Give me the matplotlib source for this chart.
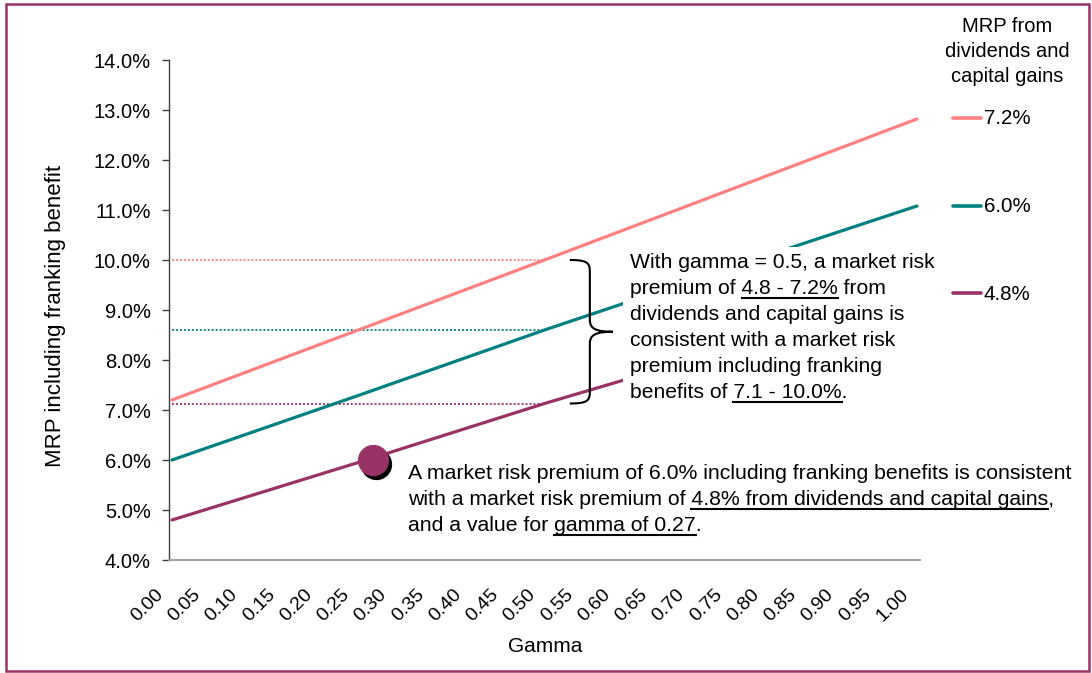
import matplotlib
matplotlib.use("Agg")
import matplotlib.pyplot as plt
import matplotlib.transforms as mtransforms
from matplotlib.lines import Line2D
from matplotlib.patches import Rectangle, PathPatch
from matplotlib.path import Path
from matplotlib.font_manager import FontProperties

FONT = ["Liberation Sans", "DejaVu Sans"]
plt.rcParams["font.family"] = FONT

W, H, DPI = 1092, 673, 100

# ---- data -------------------------------------------------------------
gamma = [0.0, 0.25, 0.5, 0.75, 1.0]
mrp_72 = [7.20, 8.60, 10.00, 11.41, 12.82]
mrp_60 = [6.00, 7.29, 8.60, 9.85, 11.08]
mrp_48 = [4.80, 5.95, 7.13, 8.23, 9.34]
series = [mrp_72, mrp_60, mrp_48]
series_labels = ["7.2%", "6.0%", "4.8%"]
series_colors = ["#FF8080", "#008080", "#993366"]

x_tick_labels = ["0.00", "0.05", "0.10", "0.15", "0.20", "0.25", "0.30",
                 "0.35", "0.40", "0.45", "0.50", "0.55", "0.60", "0.65",
                 "0.70", "0.75", "0.80", "0.85", "0.90", "0.95", "1.00"]
y_tick_values = [4, 5, 6, 7, 8, 9, 10, 11, 12, 13, 14]
y_tick_labels = ["4.0%", "5.0%", "6.0%", "7.0%", "8.0%", "9.0%", "10.0%",
                 "11.0%", "12.0%", "13.0%", "14.0%"]

ref_index = 2            # gamma = 0.5 reference column
point_gamma = 0.27       # highlighted point on the 4.8% line
point_mrp = 6.0

# ---- figure -----------------------------------------------------------
fig = plt.figure(figsize=(W / DPI, H / DPI), dpi=DPI)
pix = mtransforms.Affine2D().scale(1, -1).translate(0, H)   # y-down pixel coords

ax = fig.add_axes([169 / W, 1 - 560 / H, 751 / W, 500 / H])
ax.set_xlim(-3 / 745, 748 / 745)
ax.set_ylim(4, 14)

for s in ("top", "right"):
    ax.spines[s].set_visible(False)
ax.spines["left"].set_color("#404040")
ax.spines["left"].set_linewidth(1.0)
ax.spines["bottom"].set_color("#A0A0A0")
ax.spines["bottom"].set_linewidth(1.4)

ax.set_yticks(y_tick_values)
ax.set_yticklabels(y_tick_labels)
ax.tick_params(axis="y", direction="out", length=5, width=1, color="#404040",
               pad=8, labelsize=14.5)
ax.set_xticks([float(t) for t in x_tick_labels])
ax.set_xticklabels(x_tick_labels, rotation=45, ha="right", va="baseline",
                   rotation_mode="anchor")
ax.tick_params(axis="x", length=0, pad=25, labelsize=14)
# nudge the slanted labels so their ends sit just left of each category
label_shift = mtransforms.ScaledTranslation(-8 / DPI, 0, fig.dpi_scale_trans)
for lab in ax.xaxis.get_majorticklabels():
    lab.set_transform(lab.get_transform() + label_shift)

# dotted guides at gamma = 0.5
for vals, col in zip(series, series_colors):
    ax.plot([gamma[0], gamma[ref_index]], [vals[ref_index]] * 2, color=col,
            lw=1.3, ls=(0, (1.1, 1.1)), zorder=2)

# series lines
for vals, col in zip(series, series_colors):
    ax.plot(gamma, vals, color=col, lw=2.3, solid_capstyle="round", zorder=3)

# highlighted point with drop shadow
shadow = ax.transData + mtransforms.ScaledTranslation(3 / DPI, -4 / DPI,
                                                      fig.dpi_scale_trans)
ax.plot([point_gamma], [point_mrp], "o", ms=21.5, color="black",
        transform=shadow, zorder=4, clip_on=False)
ax.plot([point_gamma], [point_mrp], "o", ms=21.5, color="#993366",
        mec="#993366", zorder=5, clip_on=False)

# curly brace spanning the gamma = 0.5 range
top = mrp_72[ref_index]
bot = mrp_48[ref_index]
mid = (top + bot) / 2
px_x = 1 / 745
px_y = 0.02
xe = 0.534
xs = xe + 20 * px_x
xt = xe + 43 * px_x
r = 12 * px_y
verts = [
    (xe, top),
    (xs - 2 * px_x, top), (xs, top - 3 * px_y), (xs, top - r),
    (xs, mid + r),
    (xs, mid + 3 * px_y), (xs + 6 * px_x, mid), (xt, mid),
    (xs + 6 * px_x, mid), (xs, mid - 3 * px_y), (xs, mid - r),
    (xs, bot + r),
    (xs, bot + 3 * px_y), (xs - 2 * px_x, bot), (xe, bot),
]
codes = [Path.MOVETO,
         Path.CURVE4, Path.CURVE4, Path.CURVE4,
         Path.LINETO,
         Path.CURVE4, Path.CURVE4, Path.CURVE4,
         Path.CURVE4, Path.CURVE4, Path.CURVE4,
         Path.LINETO,
         Path.CURVE4, Path.CURVE4, Path.CURVE4]
ax.add_patch(PathPatch(Path(verts, codes), fill=False, ec="black", lw=1.5,
                       zorder=7, clip_on=False))

# white panel behind the upper note
fig.add_artist(Rectangle((623, 247), 300, 163, transform=pix, facecolor="white",
                         edgecolor="none", zorder=2))

# axis titles
fig.text(55 / W, 1 - 316 / H, "MRP including franking benefit", rotation=90,
         ha="center", va="center", fontsize=16)
fig.text(545 / W, 1 - 647 / H, "Gamma", ha="center", va="center", fontsize=15)

# ---- notes with underlined phrases -------------------------------------
renderer = fig.canvas.get_renderer()


def text_width(s, size):
    fp = FontProperties(family=FONT, size=size)
    w, _, _ = renderer.get_text_width_height_descent(s, fp, ismath=False)
    return w


def write_line(x, yb, parts, size):
    full = "".join(p for p, _ in parts)
    fig.text(x, yb, full, transform=pix, fontsize=size, ha="left",
             va="baseline", color="black", zorder=6)
    space = text_width("x x", size) - text_width("xx", size)
    pre = ""
    for s, ul in parts:
        if ul:
            stripped = pre.rstrip()
            start = x + (text_width(stripped, size) if stripped else 0) \
                + space * (len(pre) - len(stripped))
            end = x + text_width(pre + s, size)
            fig.add_artist(Line2D([start, end], [yb + 3.5, yb + 3.5],
                                  transform=pix, color="black", lw=1.5,
                                  zorder=6))
        pre += s


upper_note = [
    [("With gamma = 0.5, a market risk", False)],
    [("premium of ", False), ("4.8 - 7.2%", True), (" from", False)],
    [("dividends and capital gains is", False)],
    [("consistent with a market risk", False)],
    [("premium including franking", False)],
    [("benefits of ", False), ("7.1 - 10.0%", True), (".", False)],
]
for i, parts in enumerate(upper_note):
    write_line(630, 268 + 26 * i, parts, 15.2)

lower_note = [
    [("A market risk premium of 6.0% including franking benefits is consistent", False)],
    [("with a market risk premium of ", False),
     ("4.8% from dividends and capital gains", True), (",", False)],
    [("and a value for ", False), ("gamma of 0.27", True), (".", False)],
]
for i, parts in enumerate(lower_note):
    write_line(408, 479 + 26 * i, parts, 15.3)

# ---- legend -------------------------------------------------------------
for i, line in enumerate(["MRP from", "dividends and", "capital gains"]):
    fig.text(1007, 32 + 25 * i, line, transform=pix, ha="center",
             va="baseline", fontsize=14.5)
for i, (lab, col) in enumerate(zip(series_labels, series_colors)):
    y = 118 + 87.5 * i
    fig.add_artist(Line2D([953, 981], [y, y], transform=pix, color=col,
                          lw=2.6, solid_capstyle="round"))
    fig.text(984, y + 1, lab, transform=pix, ha="left", va="center",
             fontsize=14.8)

# outer frame
fig.add_artist(Rectangle((6, 4), 1083, 667, transform=pix, fill=False,
                         edgecolor="#993366", lw=1.8, zorder=10))

fig.savefig("out.png", dpi=DPI)
